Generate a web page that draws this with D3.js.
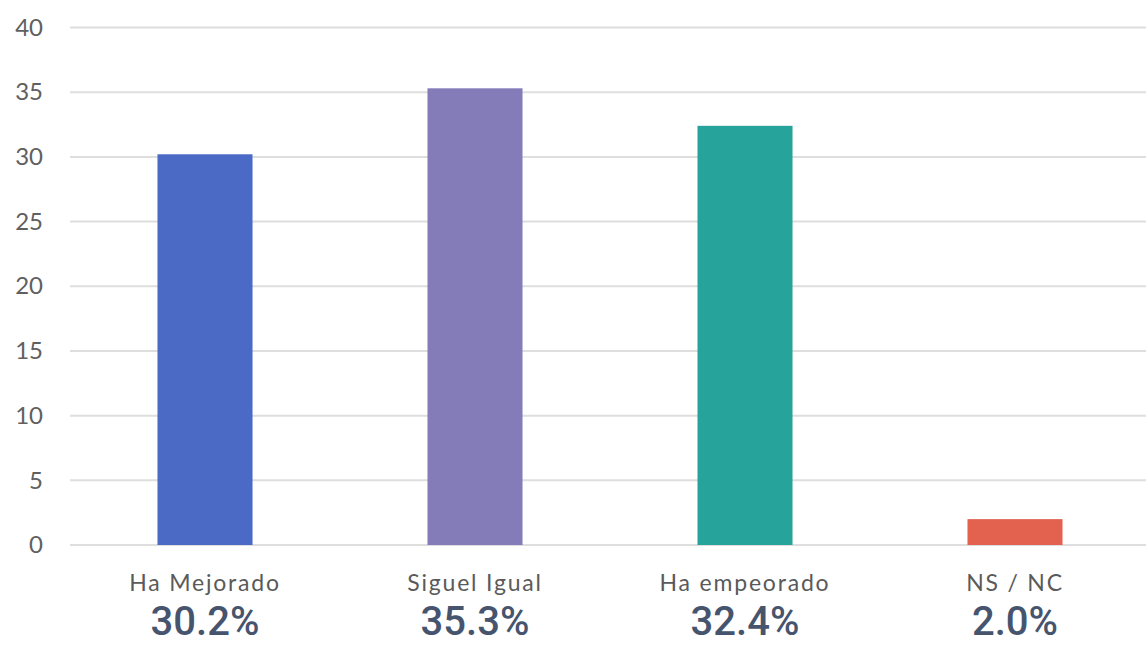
<!DOCTYPE html>
<html><head><meta charset="utf-8">
<script src="https://cdn.jsdelivr.net/npm/d3@7"></script>
<style>body{margin:0;background:#fff}svg{display:block}</style>
</head><body>
<svg id="c" width="1146" height="646"></svg>
<script>
const categories = ["Ha Mejorado", "Siguel Igual", "Ha empeorado", "NS / NC"];
const values = [30.2, 35.3, 32.4, 2.0];
const valueLabels = ["30.2%", "35.3%", "32.4%", "2.0%"];
const colors = ["#4A6AC5", "#837CB9", "#26A49C", "#E3614F"];
const yTicks = [0, 5, 10, 15, 20, 25, 30, 35, 40];

const svg = d3.select("#c");
const x = d3.scaleBand().domain(categories).range([70, 1150]).paddingInner(0.648).paddingOuter(0.324);
const y = d3.scaleLinear().domain([0, 40]).range([545, 27.5]);

// gridlines
svg.append("g").selectAll("line").data(yTicks).join("line")
  .attr("x1", 70).attr("x2", 1146)
  .attr("y1", d => y(d)).attr("y2", d => y(d))
  .attr("stroke", "#dedede").attr("stroke-width", 2);

// y axis labels
const yAxis = svg.append("g").attr("transform", "translate(70,0)")
  .call(d3.axisLeft(y).tickValues(yTicks).tickSize(0).tickPadding(27));
yAxis.select(".domain").remove();
yAxis.selectAll("text").attr("font-family", "Lato, 'Open Sans', sans-serif").attr("font-size", 24).attr("fill", "#606060");

// bars
svg.append("g").selectAll("rect").data(categories).join("rect")
  .attr("x", d => x(d)).attr("width", x.bandwidth())
  .attr("y", (d, i) => y(values[i])).attr("height", (d, i) => y(0) - y(values[i]))
  .attr("fill", (d, i) => colors[i]);

// x axis category labels
const xAxis = svg.append("g").attr("transform", "translate(0,545)")
  .call(d3.axisBottom(x).tickSize(0).tickPadding(30));
xAxis.select(".domain").remove();
xAxis.selectAll("text").attr("font-family", "Lato, 'Open Sans', sans-serif").attr("font-size", 23).attr("fill", "#5a5a5a").attr("letter-spacing", 1.8);

// percent labels
svg.append("g").selectAll("text").data(categories).join("text")
  .attr("x", d => x(d) + x.bandwidth() / 2).attr("y", 635)
  .attr("text-anchor", "middle")
  .attr("font-family", "Roboto, sans-serif").attr("font-weight", 500).attr("font-size", 40)
  .attr("fill", "#46546E")
  .text((d, i) => valueLabels[i]);
</script>
</body></html>
